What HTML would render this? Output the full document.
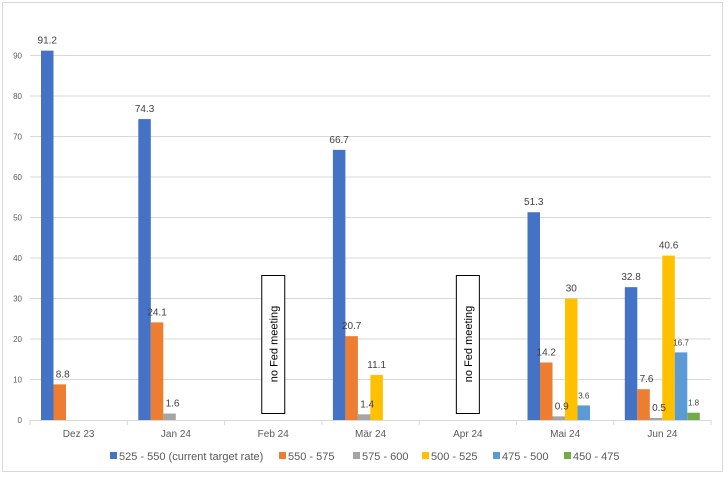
<!DOCTYPE html>
<html><head><meta charset="utf-8"><style>
body{margin:0;background:#fff;font-family:"Liberation Sans",sans-serif}
svg{display:block}
</style></head><body>
<svg width="728" height="477" id="c">
<rect x="2.5" y="2.5" width="720" height="469" fill="#fff" stroke="#d9d9d9"/>
<g id="grid"></g><g id="bars"></g><g id="labels"></g><g id="legend"></g>
</svg>
<script>
const categories=["Dez 23","Jan 24","Feb 24","Mär 24","Apr 24","Mai 24","Jun 24"];
const seriesNames=["525 - 550 (current target rate)","550 - 575","575 - 600","500 - 525","475 - 500","450 - 475"];
const s525=[91.2,74.3,null,66.7,null,51.3,32.8];
const s550=[8.8,24.1,null,20.7,null,14.2,7.6];
const s575=[null,1.6,null,1.4,null,0.9,0.5];
const s500=[null,null,null,11.1,null,30,40.6];
const s475=[null,null,null,null,null,3.6,16.7];
const s450=[null,null,null,null,null,null,1.8];
const yTicks=[0,10,20,30,40,50,60,70,80,90];
const noMeeting=["Feb 24","Apr 24"];
const colors=["#4472c4","#ed7d31","#a5a5a5","#ffc000","#5b9bd5","#70ad47"];
const series=[s525,s550,s575,s500,s475,s450];
const NS="http://www.w3.org/2000/svg";
const x0=30,catW=97.3,y0=420,pxPer=4.05,barW=12.5,gap=11;
const yS=v=>y0-v*pxPer;
const xC=i=>x0+i*catW;
function mk(t,a,p){const e=document.createElementNS(NS,t);for(const k in a)e.setAttribute(k,a[k]);p.appendChild(e);return e;}
const G=document.getElementById('grid'),B=document.getElementById('bars'),L=document.getElementById('labels'),LG=document.getElementById('legend');
yTicks.forEach(v=>{
 if(v>0){const l=mk('line',{x1:x0,x2:x0+7*catW,y1:yS(v),y2:yS(v),stroke:'#d9d9d9'},G);
 
 }
 const t=mk('text',{x:22,y:yS(v)+3,'font-size':8,fill:'#595959','text-anchor':'end'},G);t.textContent=v;
 
 
});
const ax=mk('line',{x1:x0,x2:x0+7*catW,y1:y0+.5,y2:y0+.5,stroke:'#d9d9d9'},G);


for(let i=0;i<=categories.length;i++){
 const tk=mk('line',{x1:xC(i),x2:xC(i),y1:y0,y2:y0+5,stroke:'#d9d9d9'},G);
 
 
}
categories.forEach((c,i)=>{
 const t=mk('text',{x:xC(i)+catW/2,y:y0+17,'font-size':10,fill:'#595959','text-anchor':'middle'},G);t.textContent=c;
 
 
 series.forEach((s,j)=>{
  const v=s[i];if(v==null)return;
  const bx=xC(i)+gap+j*barW;
  const r=mk('rect',{x:bx,y:yS(v),width:barW,height:v*pxPer,fill:colors[j]},B);
  
  
  const small=(j>=4);
  const t=mk('text',{x:bx+barW/2+(j==2||j==1&&v<10?3:0),y:yS(v)-7,'font-size':small?8:10,fill:'#404040','text-anchor':'middle'},L);t.textContent=v;
  
  
 });
 if(noMeeting.includes(c)){
  const bx=xC(i)+catW/2-12;
  const r=mk('rect',{x:bx+.5,y:275.5,width:23,height:138,fill:'#fff',stroke:'#000'},L);
  
  
  const t=mk('text',{x:0,y:0,'font-size':11,fill:'#000','text-anchor':'middle',transform:`translate(${bx+16},344) rotate(-90)`},L);t.textContent='no Fed meeting';
  
  
 }
});
const lx=[110,279,353,422,493,564];
seriesNames.forEach((n,j)=>{
 const r=mk('rect',{x:lx[j],y:452,width:7,height:7,fill:colors[j]},LG);
 
 
 const t=mk('text',{x:lx[j]+9,y:460,'font-size':11,fill:'#595959'},LG);t.textContent=n;
 
 
});
</script>
</body></html>
